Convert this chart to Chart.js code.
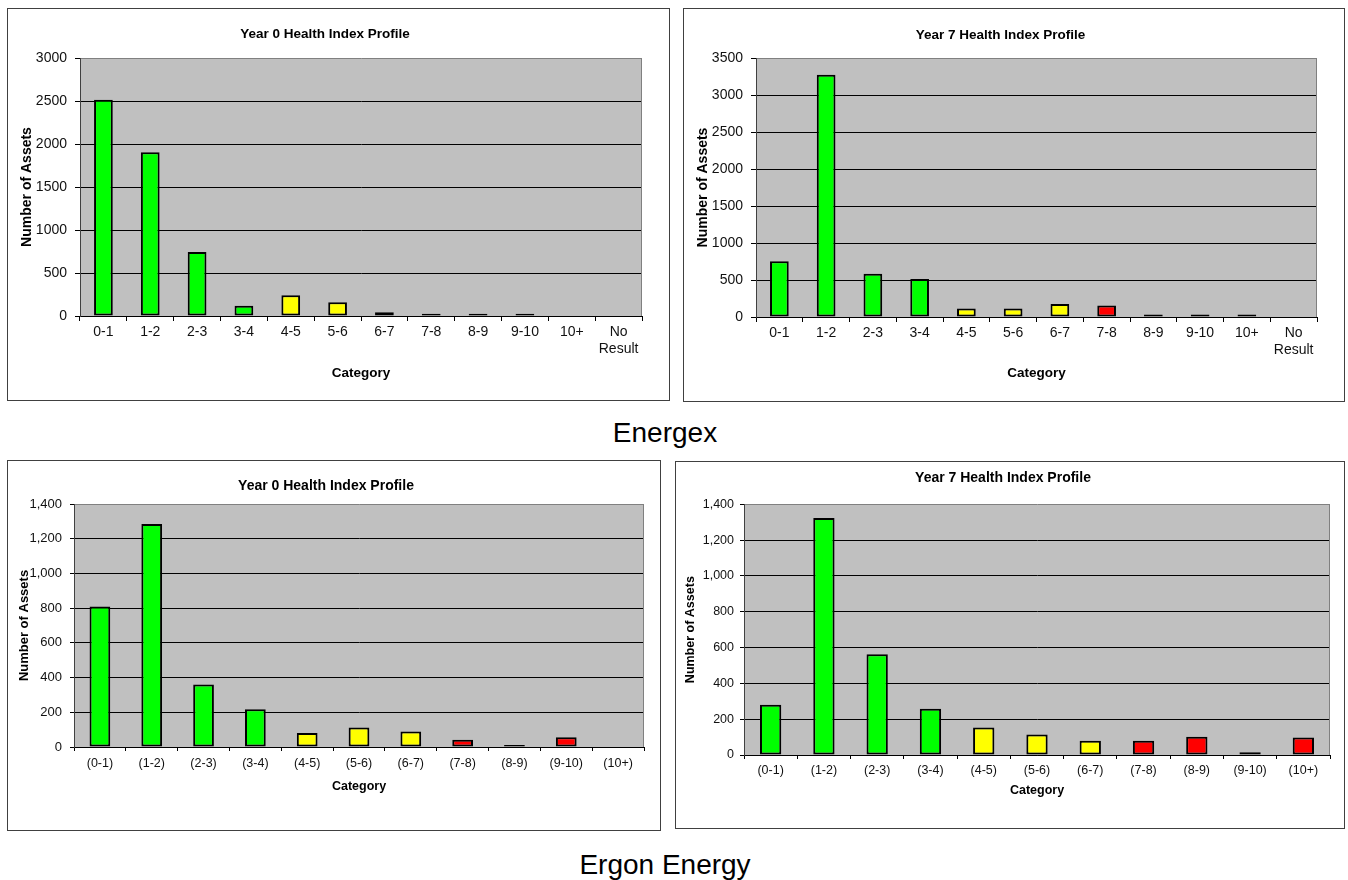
<!DOCTYPE html>
<html>
<head>
<meta charset="utf-8">
<title>Health Index Profiles</title>
<script src="https://cdn.jsdelivr.net/npm/chart.js@4.4.1/dist/chart.umd.min.js"></script>
<style>
  body { margin: 0; background: #fff; width: 1348px; height: 880px; position: relative; overflow: hidden;
         font-family: 'Liberation Sans', Arial, sans-serif; }
  .frame { position: absolute; border: 1px solid #404040; box-sizing: border-box; background: #fff; }
  .frame canvas { display: block; }
  .caption { position: absolute; left: 0; width: 1330px; text-align: center; font-size: 28px; line-height: 28px; color: #000; }
</style>
</head>
<body>
<div class="frame" style="left:7px; top:8px; width:663px; height:393px;"><canvas id="energex0" width="661" height="391"></canvas></div>
<div class="frame" style="left:683px; top:8px; width:662px; height:394px;"><canvas id="energex7" width="660" height="392"></canvas></div>
<div class="caption" style="top:419px;">Energex</div>
<div class="frame" style="left:7px; top:460px; width:654px; height:371px;"><canvas id="ergon0" width="652" height="369"></canvas></div>
<div class="frame" style="left:675px; top:461px; width:670px; height:368px;"><canvas id="ergon7" width="668" height="366"></canvas></div>
<div class="caption" style="top:851px;">Ergon Energy</div>

<script>
/* --- DATA --- */
const ENERGEX_CATEGORIES = ['0-1', '1-2', '2-3', '3-4', '4-5', '5-6', '6-7', '7-8', '8-9', '9-10', '10+', ['No', 'Result']];
const ERGON_CATEGORIES = ['(0-1)', '(1-2)', '(2-3)', '(3-4)', '(4-5)', '(5-6)', '(6-7)', '(7-8)', '(8-9)', '(9-10)', '(10+)'];

const energexYear0 = [2515, 1905, 743, 120, 240, 160, 45, 25, 25, 25, 0, 0];
const energexYear7 = [755, 3272, 583, 515, 115, 115, 175, 155, 35, 35, 35, 0];
const ergonYear0 = [810, 1285, 360, 217, 80, 112, 90, 42, 12, 56, 0];
const ergonYear7 = [280, 1323, 563, 258, 153, 114, 80, 80, 102, 15, 98];

// y axis ranges: [max, step]
const ENERGEX_Y0_AXIS = [3000, 500];
const ENERGEX_Y7_AXIS = [3500, 500];
const ERGON_AXIS = [1400, 200];

/* --- STYLE --- */
const GREEN = '#00ff00', YELLOW = '#ffff00', RED = '#ff0000';
const bandColor = (i) => i < 4 ? GREEN : (i < 7 ? YELLOW : RED);

Chart.defaults.font.family = "'Liberation Sans', Arial, sans-serif";

// grey plot area + right border, like the old Excel charts
const plotBg = {
  id: 'plotBg',
  beforeDraw(chart) {
    const { ctx, chartArea: a } = chart;
    ctx.save();
    ctx.fillStyle = '#c0c0c0';
    ctx.fillRect(a.left, a.top, a.right - a.left, a.bottom - a.top);
    ctx.restore();
  },
  afterDraw(chart) {
    const { ctx, chartArea: a } = chart;
    const x = Math.round(a.right) - 0.5;
    ctx.save();
    ctx.strokeStyle = '#808080';
    ctx.lineWidth = 1;
    ctx.beginPath();
    ctx.moveTo(x, a.top);
    ctx.lineTo(x, a.bottom);
    ctx.stroke();
    ctx.restore();
  }
};

function buildChart(id, title, labels, values, axis, commas, g) {
  const [yMax, yStep] = axis;
  return new Chart(document.getElementById(id), {
    type: 'bar',
    data: {
      labels: labels,
      datasets: [{
        data: values,
        backgroundColor: (c) => bandColor(c.dataIndex),
        borderColor: '#000',
        borderWidth: 2,
        borderSkipped: false,
        barPercentage: 0.4,
        categoryPercentage: 1
      }]
    },
    options: {
      responsive: false,
      animation: false,
      devicePixelRatio: 1,
      layout: { padding: { left: 0, top: 0, right: g.padRight, bottom: 0 } },
      plugins: {
        legend: { display: false },
        tooltip: { enabled: false },
        title: {
          display: true, text: title, color: '#000',
          font: { size: g.titleSize, weight: 'bold' },
          padding: { top: g.titleTop, bottom: g.titleBottom }
        }
      },
      scales: {
        x: {
          grid: { drawOnChartArea: false, offset: true, tickLength: g.tickLen, color: '#000' },
          border: { color: '#000' },
          ticks: { color: '#111', font: { size: g.xTickSize }, padding: g.xTickPad, maxRotation: 0, autoSkip: false },
          title: {
            display: true, text: 'Category', color: '#000',
            font: { size: g.xTitleSize, weight: 'bold' },
            padding: { top: 0, bottom: g.xTitlePad }
          },
          afterFit: (s) => { s.height = g.xHeight; }
        },
        y: {
          min: 0,
          max: yMax,
          ticks: {
            stepSize: yStep, color: '#111', font: { size: g.yTickSize }, padding: g.yTickPad,
            callback: (v) => commas ? v.toLocaleString('en-US') : String(v)
          },
          grid: {
            color: (c) => (c.tick && c.tick.value === yMax) ? '#808080' : '#000',
            tickColor: '#000',
            tickLength: g.tickLen
          },
          border: { color: '#404040' },
          title: {
            display: true, text: 'Number of Assets', color: '#000',
            font: { size: g.yTitleSize, weight: 'bold' },
            padding: { top: g.yTitlePad, bottom: 0 }
          },
          afterFit: (s) => { s.width = g.yWidth; }
        }
      }
    },
    plugins: [plotBg]
  });
}

buildChart('energex0', 'Year 0 Health Index Profile', ENERGEX_CATEGORIES, energexYear0, ENERGEX_Y0_AXIS, false, {
  yWidth: 72, xHeight: 84, padRight: 27,
  titleSize: 13.5, titleTop: 17.6, titleBottom: 15.2,
  xTickSize: 14, yTickSize: 14, tickLen: 5, xTickPad: 3, yTickPad: 8,
  xTitleSize: 13.5, xTitlePad: 18.9, yTitleSize: 14, yTitlePad: 10.6
});

buildChart('energex7', 'Year 7 Health Index Profile', ENERGEX_CATEGORIES, energexYear7, ENERGEX_Y7_AXIS, false, {
  yWidth: 72, xHeight: 84, padRight: 27,
  titleSize: 13.5, titleTop: 18.6, titleBottom: 14.2,
  xTickSize: 14, yTickSize: 14, tickLen: 5, xTickPad: 2.5, yTickPad: 8,
  xTitleSize: 13.5, xTitlePad: 19.2, yTitleSize: 14, yTitlePad: 10.6
});

buildChart('ergon0', 'Year 0 Health Index Profile', ERGON_CATEGORIES, ergonYear0, ERGON_AXIS, true, {
  yWidth: 66, xHeight: 83, padRight: 16,
  titleSize: 14, titleTop: 16.4, titleBottom: 9.8,
  xTickSize: 12.5, yTickSize: 13, tickLen: 4, xTickPad: 5, yTickPad: 8,
  xTitleSize: 12.5, xTitlePad: 35.8, yTitleSize: 13, yTitlePad: 8.2
});

buildChart('ergon7', 'Year 7 Health Index Profile', ERGON_CATEGORIES, ergonYear7, ERGON_AXIS, true, {
  yWidth: 68, xHeight: 73, padRight: 14,
  titleSize: 14, titleTop: 7.9, titleBottom: 17.6,
  xTickSize: 12.5, yTickSize: 12.5, tickLen: 4, xTickPad: 4, yTickPad: 6,
  xTitleSize: 12.5, xTitlePad: 29.8, yTitleSize: 12.5, yTitlePad: 7.2
});
</script>
</body>
</html>
